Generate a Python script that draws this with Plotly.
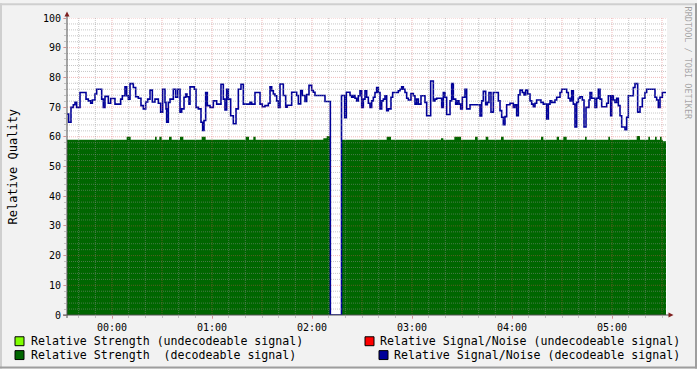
import plotly.graph_objects as go
from datetime import datetime, timedelta

# ---------------- data ----------------
START = datetime(2000, 1, 1, 23, 33)   # left edge of the time axis
SPAN_MIN = 360                          # minutes shown

# Relative Signal/Noise (decodeable) : change points (minutes from START, value)
snr_min = [0, 1, 2.4, 3.8, 4.8, 5.8, 7.8, 11.4, 12.8, 14.2, 15.2, 16.8, 17.8, 20.8, 21.8, 22.8,
           24.8, 26.2, 28.8, 32.2, 33.2, 34.8, 35.8, 36.8, 37.8, 39.8, 41.2, 42.8, 44.4, 45.8,
           47.2, 48.4, 49.8, 51.2, 52.8, 54.8, 56.2, 57.4, 58.8, 59.4, 59.8, 60.8, 61.8, 63.8,
           65.2, 66.4, 67.8, 68.8, 70.2, 71.2, 72, 73.2, 73.8, 76.4, 77.4, 78.8, 80.4, 81.4,
           82.2, 83.2, 84.2, 85.8, 87.8, 89.8, 92.4, 93.8, 94.8, 95.8, 96.8, 98.2, 99.8, 101.4,
           102.8, 104.4, 105.8, 109.8, 110.8, 112.8, 115.8, 117.2, 118.8, 120.8, 121.8, 122.8,
           123.8, 124.8, 125.8, 126.8, 127.8, 129.8, 131.2, 132.2, 134.8, 137.8, 138.8, 140.2,
           141.2, 142.8, 143.8, 145.2, 146.8, 147.8, 148.8, 154.8, 158, 164.7, 166.6, 167.6,
           169.8, 170.8, 171.8, 172.8, 173.8, 174.8, 175.8, 176.8, 177.8, 178.8, 179.8, 180.8,
           181.8, 182.8, 183.8, 184.8, 185.8, 186.8, 187.8, 188.8, 189.8, 190.8, 191.8, 192.8,
           194.4, 195.4, 198.8, 199.8, 200.8, 201.8, 202.8, 203.8, 204.8, 206.4, 207.8, 208.8,
           209.8, 210.8, 212.4, 214.8, 215.8, 218.2, 219.8, 220.8, 221.8, 224.8, 225.8, 226.8,
           227.8, 229.8, 230.8, 231.8, 233.2, 234.2, 235.2, 236.2, 237.2, 238.8, 239.8, 241.8,
           247.8, 248.8, 249.8, 251.2, 252.2, 253.2, 254.4, 255.8, 258.8, 259.8, 260.8, 261.8,
           262.8, 263.8, 265.8, 267.8, 268.8, 269.8, 270.8, 271.8, 273.2, 274.2, 275.2, 276.4,
           277.8, 278.8, 279.8, 280.8, 281.8, 284.4, 285.8, 287.8, 288.8, 289.8, 290.8, 292.8,
           293.8, 295.8, 296.8, 298.8, 299.8, 300.8, 301.8, 302.8, 303.8, 304.8, 305.8, 306.8,
           307.8, 309.2, 310.2, 311.4, 313.2, 313.8, 314.8, 316.8, 317.8, 318.8, 319.8, 320.8,
           323.8, 324.8, 326.2, 326.8, 327.8, 328.8, 329.8, 330.8, 331.8, 332.8, 334.8, 335.8,
           336.8, 339.8, 340.8, 342.4, 343.8, 345.2, 346.8, 347.8, 352.8, 353.8, 354.8, 355.8,
           357.2, 359.4]
snr_val = [67.7, 64.9, 69.9, 70.8, 71.6, 69.9, 74.9, 72.7, 72.1, 71.3, 72.4, 74.4, 76, 72.7, 69.9, 73.6,
           71.3, 72.9, 71, 72.7, 73.8, 76.8, 73.8, 72.7, 77.9, 76.6, 73.5, 73, 70.5, 69.4,
           71.7, 72.7, 75.7, 71.7, 72.7, 71.3, 68.3, 76, 71.6, 69.4, 64.9, 71.6, 72.7, 76,
           73.3, 76, 68.3, 69.4, 73.3, 74.4, 73.5, 71, 76.8, 76, 69.9, 69.4, 64.9, 62.1,
           65.5, 74.9, 70.5, 69.9, 72.1, 71, 77.7, 72.7, 69, 76, 72.7, 67.1, 64.4, 69.4,
           76, 77.7, 71, 71.6, 71, 74.9, 71, 70.1, 70.5, 71.3, 76.8, 75.5,
           74.4, 73.8, 72.1, 69.9, 77.8, 73.9, 70, 70.6, 75, 73.9, 71.1, 75.6,
           73.9, 71.9, 74.2, 77.3, 75.6, 75, 73.9, 71.9, 0, 73.9, 66.4, 75,
           73.9, 73.3, 73.9, 73, 72.1, 73.8, 75.5, 69.9, 72.7, 75.5, 73.3, 71.3,
           69.9, 72.1, 73.3, 74.9, 76.6, 74.9, 69.4, 72.1, 72.7, 73.8, 68.8, 69.4,
           73.3, 74.9, 75.5, 76, 76.8, 76, 74.9, 73, 72.4, 74.6, 73.8, 71,
           72.7, 71, 73.8, 71.6, 67.1, 78.8, 72.1, 72.7, 73, 69.9, 74.9, 73.3,
           67.5, 72.1, 77.9, 72.7, 71, 72.1, 71, 69.4, 73.3, 76, 69.4, 70.8,
           67, 72.1, 75.3, 70.8, 71.6, 74.9, 68.3, 74.9, 72.1, 68.8, 66.6, 64.1,
           66.8, 70.8, 71.3, 69.9, 70.8, 67.1, 74.1, 75.7, 74.9, 74.1, 75.7, 74.4,
           72.1, 71, 70.1, 71.3, 72.4, 71.6, 71, 66, 71, 72.1, 71.6, 72.4,
           73.3, 74.9, 76, 76, 74.9, 73, 72.1, 75.5, 71, 63.3, 71.6, 73,
           73.5, 72.4, 63.3, 69.9, 72.4, 74.9, 73, 69.9, 73, 76, 72.7, 70.1,
           71.3, 73.8, 67.1, 73.8, 72.4, 71.6, 73, 70.5, 67.1, 63.3, 62.4, 66.6,
           73.8, 76.6, 77.9, 68.3, 70.1, 73, 74.9, 76, 73.3, 72.4, 69.9, 73.3,
           74.9, 74.9]

# Relative Strength (decodeable) : change points
str_min = [0, 35.8, 38.2, 52.8, 53.8, 55.4, 56.8, 61.2, 62.8, 67.8, 69.8, 80.8, 83.2, 107.2,
           109.2, 111.8, 113.2, 153.8, 155.8, 158, 164.7, 191.8, 194.4, 224.4, 225.8, 232.4,
           236.4, 244.8, 246.4, 251.2, 252.8, 260.4, 262, 284.4, 285.8, 293.8, 295.2, 297.8,
           299.8, 310.8, 311.8, 324.8, 325.8, 341.8, 343.8, 348.8, 349.8, 352.8, 353.8, 355.8,
           356.8, 357.5, 359.4]
str_val = [59, 60, 59, 60, 59, 60, 59, 60, 59, 60, 59, 60, 59, 60,
           59, 60, 59, 59.5, 60.3, 0, 59, 60, 59, 59.5, 59, 60,
           59, 60, 59, 60, 59, 60, 59, 60, 59, 60, 59, 60,
           59, 60, 59, 60, 59, 60.3, 59, 60, 59, 60, 59, 60,
           59, 58.5, 58.5]

hour_ticks = ["00:00", "01:00", "02:00", "03:00", "04:00", "05:00"]
y_ticks = list(range(0, 101, 10))

legend_items = [
    ("Relative Strength (undecodeable signal)", "#80FF00"),
    ("Relative Strength  (decodeable signal)", "#006600"),
    ("Relative Signal/Noise (undecodeable signal)", "#FF0000"),
    ("Relative Signal/Noise (decodeable signal)", "#000099"),
]

# ---------------- layout geometry ----------------
W, H = 697, 369
L, R, T, B = 67, 30, 15, 54
PW, PH = W - L - R, H - T - B
FONT = "DejaVu Sans Mono"


def px(X):
    return (X - L) / PW


def py(Y):
    return (H - B - Y) / PH


def ts(m):
    return START + timedelta(minutes=m)


fig = go.Figure()
fig.add_trace(go.Scatter(
    x=[ts(m) for m in str_min], y=str_val, mode="lines",
    line=dict(shape="hv", width=0, color="#006600"),
    fill="tozeroy", fillcolor="#006600", hoverinfo="skip", showlegend=False))
fig.add_trace(go.Scatter(
    x=[ts(m) for m in snr_min], y=snr_val, mode="lines",
    line=dict(shape="hv", width=1.6, color="#000099"),
    hoverinfo="skip", showlegend=False))

GRID = "rgba(143,143,143,0.5)"
MGRID = "rgba(222,79,79,0.4)"
shapes = []
# horizontal grid
for v in range(2, 101, 2):
    shapes.append(dict(type="line", xref="paper", yref="y", x0=0, x1=1, y0=v, y1=v,
                       line=dict(color=MGRID if v % 10 == 0 else GRID, width=1, dash="1px,1px"),
                       layer="above"))
# vertical grid every 10 minutes
m = 7
while m < SPAN_MIN:
    t = ts(m)
    major = t.minute % 30 == 0
    shapes.append(dict(type="line", xref="x", yref="paper", x0=t, x1=t, y0=0, y1=1,
                       line=dict(color=MGRID if major else GRID, width=1, dash="1px,1px"),
                       layer="above"))
    m += 10

AXIS = "#505050"
ARROW = "#7F1F1F"
# axis lines
shapes.append(dict(type="line", xref="paper", yref="paper", x0=px(67), x1=px(67),
                   y0=py(318), y1=py(12), line=dict(color=AXIS, width=1), layer="above"))
shapes.append(dict(type="line", xref="paper", yref="paper", x0=px(63), x1=px(669),
                   y0=py(315), y1=py(315), line=dict(color=AXIS, width=1), layer="above"))
# arrows
shapes.append(dict(type="path", xref="paper", yref="paper",
                   path=f"M {px(64.5)} {py(13.5)} L {px(69.5)} {py(13.5)} L {px(67)} {py(8.5)} Z",
                   fillcolor=ARROW, line=dict(width=0), layer="above"))
shapes.append(dict(type="path", xref="paper", yref="paper",
                   path=f"M {px(668.5)} {py(312.5)} L {px(668.5)} {py(317.5)} L {px(673.5)} {py(315)} Z",
                   fillcolor=ARROW, line=dict(width=0), layer="above"))
# frame of image
for (x0, y0, x1, y1, c) in [(0, 0, W, 2, "#CFCFCF"), (0, 0, 2, H, "#CFCFCF"),
                            (0, H - 2, W, H, "#9E9E9E"), (W - 2, 0, W, H, "#9E9E9E")]:
    shapes.append(dict(type="rect", xref="paper", yref="paper", x0=px(x0), x1=px(x1),
                       y0=py(y1), y1=py(y0), fillcolor=c, line=dict(width=0), layer="above"))

annotations = []
# legend swatches + texts
sw = [(15, 337), (15, 351), (365, 337), (379, 351)]
tx = [(29, 341.5, "left"), (29, 355.5, "left"), (681.5, 341.5, "right"), (681.5, 355.5, "right")]
for (label, col), (sx, sy), (tx_, ty_, anc) in zip(legend_items, sw, tx):
    shapes.append(dict(type="rect", xref="paper", yref="paper", x0=px(sx), x1=px(sx + 9),
                       y0=py(sy + 9), y1=py(sy), fillcolor=col,
                       line=dict(color="#000000", width=1), layer="above"))
    annotations.append(dict(text=label.replace(" ", "&nbsp;"), xref="paper", yref="paper",
                            x=px(tx_), y=py(ty_), xanchor=anc, yanchor="middle",
                            showarrow=False, font=dict(family=FONT, size=11.6, color="#000000")))

annotations.append(dict(text="Relative Quality", xref="paper", yref="paper", x=px(12), y=py(165),
                        xanchor="center", yanchor="middle", textangle=-90, showarrow=False,
                        font=dict(family=FONT, size=12, color="#000000")))
annotations.append(dict(text="RRDTOOL / TOBI OETIKER", xref="paper", yref="paper", x=px(688),
                        y=py(60), xanchor="center", yanchor="middle", textangle=90,
                        showarrow=False, font=dict(family=FONT, size=8.5, color="rgba(0,0,0,0.35)")))

hour_vals = [datetime(2000, 1, 2, h, 0) for h in range(len(hour_ticks))]

fig.update_layout(
    width=W, height=H,
    margin=dict(l=L, r=R, t=T, b=B, pad=0),
    paper_bgcolor="#F2F2F2", plot_bgcolor="#FFFFFF",
    showlegend=False,
    shapes=shapes, annotations=annotations,
    xaxis=dict(type="date", range=[ts(0), ts(SPAN_MIN)], showgrid=False, zeroline=False,
               showline=False, tickmode="array", tickvals=hour_vals, ticktext=hour_ticks,
               ticks="outside", ticklen=3, tickcolor=MGRID, tickwidth=1,
               minor=dict(ticks="outside", ticklen=2, tickcolor=GRID, dtick=600000,
                          tick0=ts(7), showgrid=False),
               tickfont=dict(family=FONT, size=10, color="#000000"), fixedrange=True),
    yaxis=dict(range=[0, 100], showgrid=False, zeroline=False, showline=False,
               tickmode="array", tickvals=y_ticks, ticktext=[str(v) for v in y_ticks],
               ticks="outside", ticklen=3, tickcolor=MGRID, tickwidth=1,
               minor=dict(ticks="outside", ticklen=2, tickcolor=GRID, dtick=2, showgrid=False),
               tickfont=dict(family=FONT, size=10, color="#000000"), fixedrange=True),
)

fig.write_html("out.html")
